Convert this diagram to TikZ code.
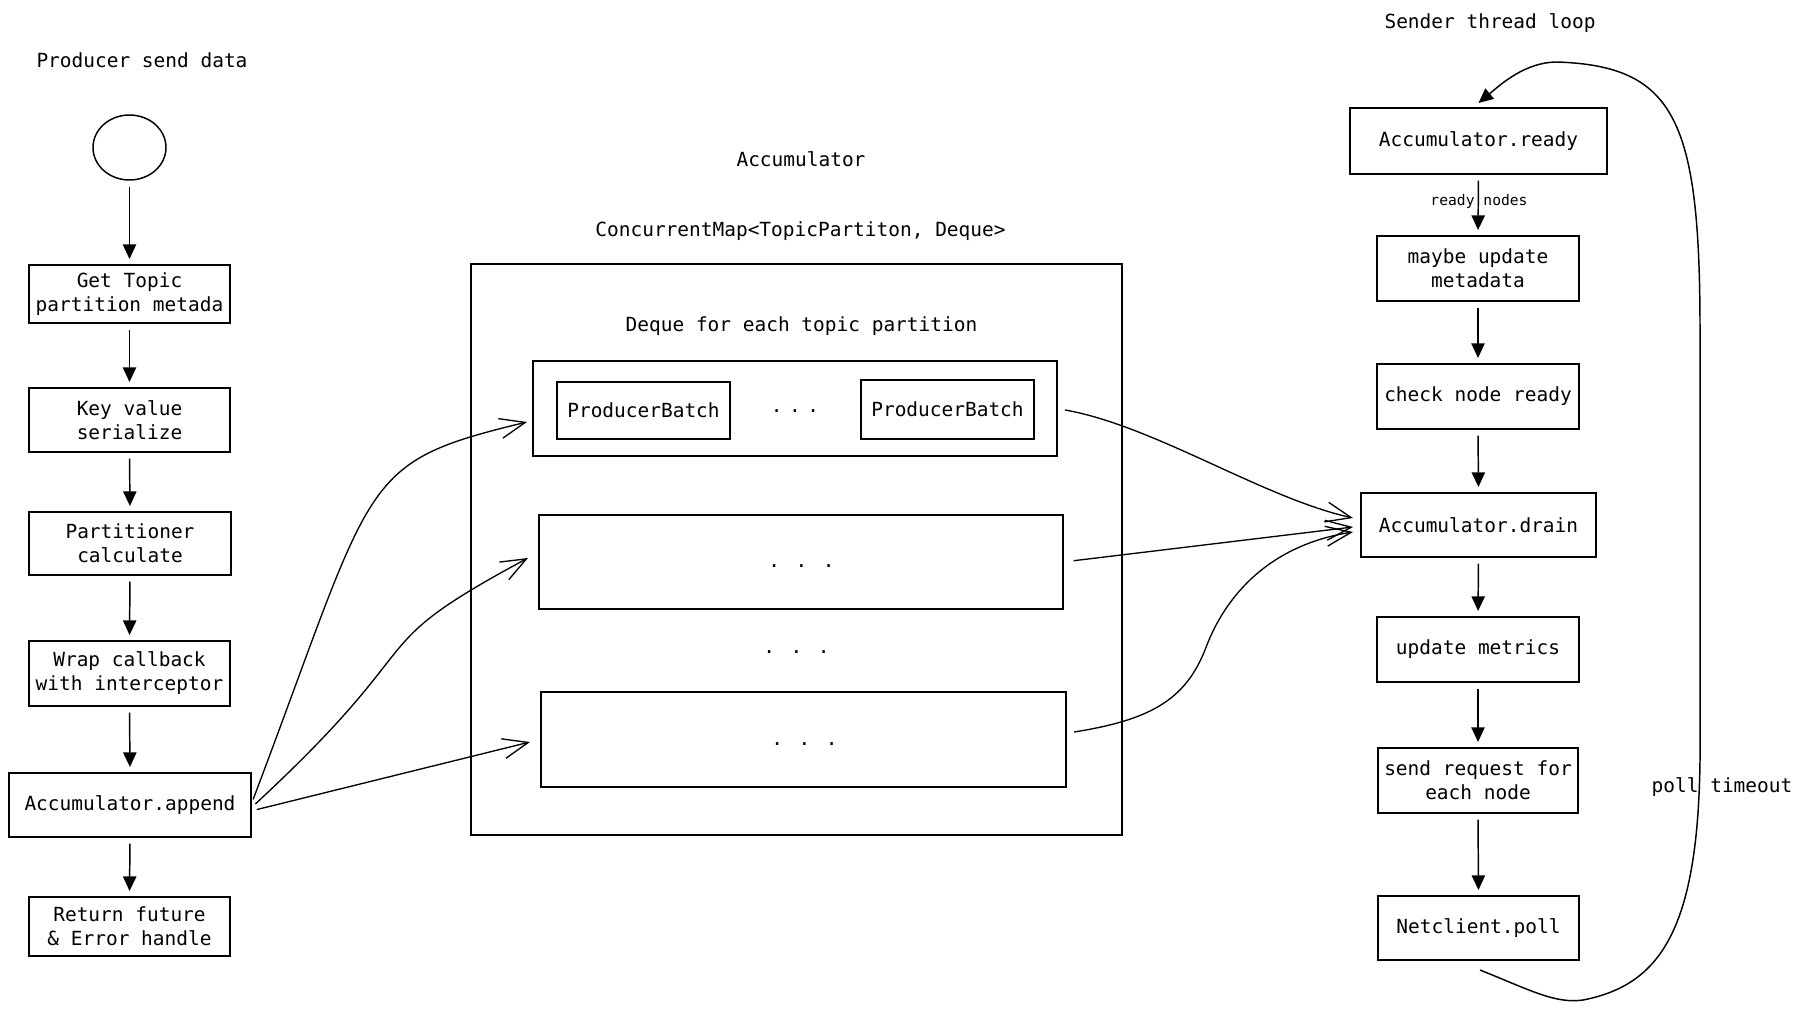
\documentclass[tikz,border=0pt]{standalone}
\usepackage{fontspec}
\newfontfamily\monofont{DejaVu Sans Mono}
\usetikzlibrary{arrows.meta,calc,shapes.geometric}
\begin{document}
\begin{tikzpicture}[x=0.75pt,y=-0.75pt,
  box/.style={draw, line width=1.1pt, inner sep=0pt, outer sep=0pt, align=center,
    font=\monofont\fontsize{14.6}{18}\selectfont},
  lbl/.style={inner sep=0pt, align=center, font=\monofont\fontsize{14.6}{18}\selectfont},
  small/.style={inner sep=0pt, font=\monofont\fontsize{11}{13}\selectfont},
  tri/.style={-{Triangle[length=11pt,width=10pt]}, line width=1.1pt, shorten <=5pt, shorten >=4.5pt},
  tricurve/.style={-{Triangle[length=11pt,width=10pt]}, line width=1.1pt},
  barb/.style={-{Straight Barb[length=19pt,width=15pt]}, line width=1pt},
]
\fill[white] (0,0) rectangle (1802,1010);
\useasboundingbox (0,0) rectangle (1802,1010);

% ---------- left column ----------
\node[lbl] (t1) at (142,60) {Producer send data};
\node[ellipse, draw, line width=1.1pt, inner sep=0pt, minimum width=54.75pt, minimum height=48.75pt] (L0) at (129.5,147.5) {};
\node[box, minimum width=150.75pt, minimum height=43.5pt] (L1) at (129.5,294) {Get Topic\\partition metada};
\node[box, minimum width=150.75pt, minimum height=48pt] (L2) at (129.5,420) {Key value\\serialize};
\node[box, minimum width=151.5pt, minimum height=47.25pt] (L3) at (130,543.5) {Partitioner\\calculate};
\node[box, minimum width=150.75pt, minimum height=48.75pt] (L4) at (129.5,673.5) {Wrap callback\\with interceptor};
\node[box, minimum width=181.5pt, minimum height=48pt] (L5) at (130,805) {Accumulator.append};
\node[box, minimum width=150.75pt, minimum height=44.25pt] (L6) at (129.5,926.5) {Return future\\\& Error handle};

\draw[tri] (L0.south) -- (L1.north);
\draw[tri] (L1.south) -- (L2.north);
\draw[tri] (L2.south) -- (L3.north);
\draw[tri] (L3.south) -- (L4.north);
\draw[tri] (L4.south) -- (L5.north);
\draw[tri] (L5.south) -- (L6.north);

% ---------- middle ----------
\node[lbl] (t2) at (801,159) {Accumulator};
\node[lbl] (t3) at (800.5,231) {ConcurrentMap<TopicPartiton, Deque>};
\node[box, minimum width=488.25pt, minimum height=428.25pt] (outer) at (796.5,549.5) {};
\node[lbl] (t4) at (801.5,326) {Deque for each topic partition};
\node[box, minimum width=393pt, minimum height=71.25pt] (d1) at (795,408.5) {};
\node[box, minimum width=129.75pt, minimum height=42.75pt] (pb1) at (643.5,410.5) {ProducerBatch};
\node[box, minimum width=129.75pt, minimum height=44.25pt] (pb2) at (947.5,409.5) {ProducerBatch};
\node[lbl] (dots1) at (795,411) {.\,\,.\,\,.};
\node[box, minimum width=393pt, minimum height=70.5pt] (d2) at (801,562) {};
\node[lbl] (dots2) at (801.5,566) {. . .};
\node[lbl] (dots3) at (796.5,652) {. . .};
\node[box, minimum width=393.75pt, minimum height=71.25pt] (d3) at (803.5,739.5) {};
\node[lbl] (dots4) at (804.5,744) {. . .};

% append -> deques
\draw[barb, shorten <=4.5pt] (L5.east) .. controls (376,475) and (357,463) .. ($(d1.west)+(-6,13.5)$);
\draw[barb, shorten <=4.5pt] ($(L5.east)+(0,3)$) .. controls (440,633) and (355,651) .. ($(d2.west)+(-11,-4)$);
\draw[barb, shorten <=4.5pt] ($(L5.east)+(0,6)$) -- ($(d3.west)+(-11,2.5)$);

% ---------- right column ----------
\node[lbl] (t5) at (1490,23) {Sender thread loop};
\node[box, minimum width=192.75pt, minimum height=49.5pt] (R1) at (1478.5,141) {Accumulator.ready};
\node[box, minimum width=151.5pt, minimum height=48.75pt] (R2) at (1478,268.5) {maybe update\\metadata};
\node[box, minimum width=151.5pt, minimum height=48.75pt] (R3) at (1478,396.5) {check node ready};
\node[box, minimum width=176.25pt, minimum height=48pt] (R4) at (1478.5,525) {Accumulator.drain};
\node[box, minimum width=151.5pt, minimum height=48.75pt] (R5) at (1478,649.5) {update metrics};
\node[box, minimum width=150pt, minimum height=48.75pt] (R6) at (1478,780.5) {send request for\\each node};
\node[box, minimum width=150.75pt, minimum height=48pt] (R7) at (1478.5,928) {Netclient.poll};

\draw[tri] (R1.south) -- (R2.north);
\node[small] (rn) at (1479,201) {ready nodes};
\draw[tri] (R2.south) -- (R3.north);
\draw[tri] (R3.south) -- (R4.north);
\draw[tri] (R4.south) -- (R5.north);
\draw[tri] (R5.south) -- (R6.north);
\draw[tri] (R6.south) -- (R7.north);

% deques -> drain
\draw[barb, shorten <=6pt] (d1.east) .. controls (1155,426) and (1263,498) .. ($(R4.west)+(-8,-7)$);
\draw[barb, shorten <=8pt] (d2.east) -- ($(R4.west)+(-8,2)$);
\draw[barb] ($(d3.east)+(8,-7.5)$) .. controls (1150,720) and (1185,700) .. (1205,650)
   .. controls (1225,595) and (1270,545) .. ($(R4.west)+(-8,7)$);

% loop
\coordinate (loopstart) at ($(R7.south)+(1.5,10)$);
\coordinate (loopend) at ($(R1.north)+(0,-5)$);
\draw[tricurve] (loopstart) .. controls (1530,990) and (1555,1004) .. (1583,1000)
   .. controls (1660,985) and (1698,930) .. (1700,760) -- (1700,330)
   .. controls (1700,120) and (1675,66) .. (1557,62)
   .. controls (1525,62) and (1500,85) .. (loopend);
\node[lbl] (pt) at (1722,787) {poll timeout};
\end{tikzpicture}
\end{document}
